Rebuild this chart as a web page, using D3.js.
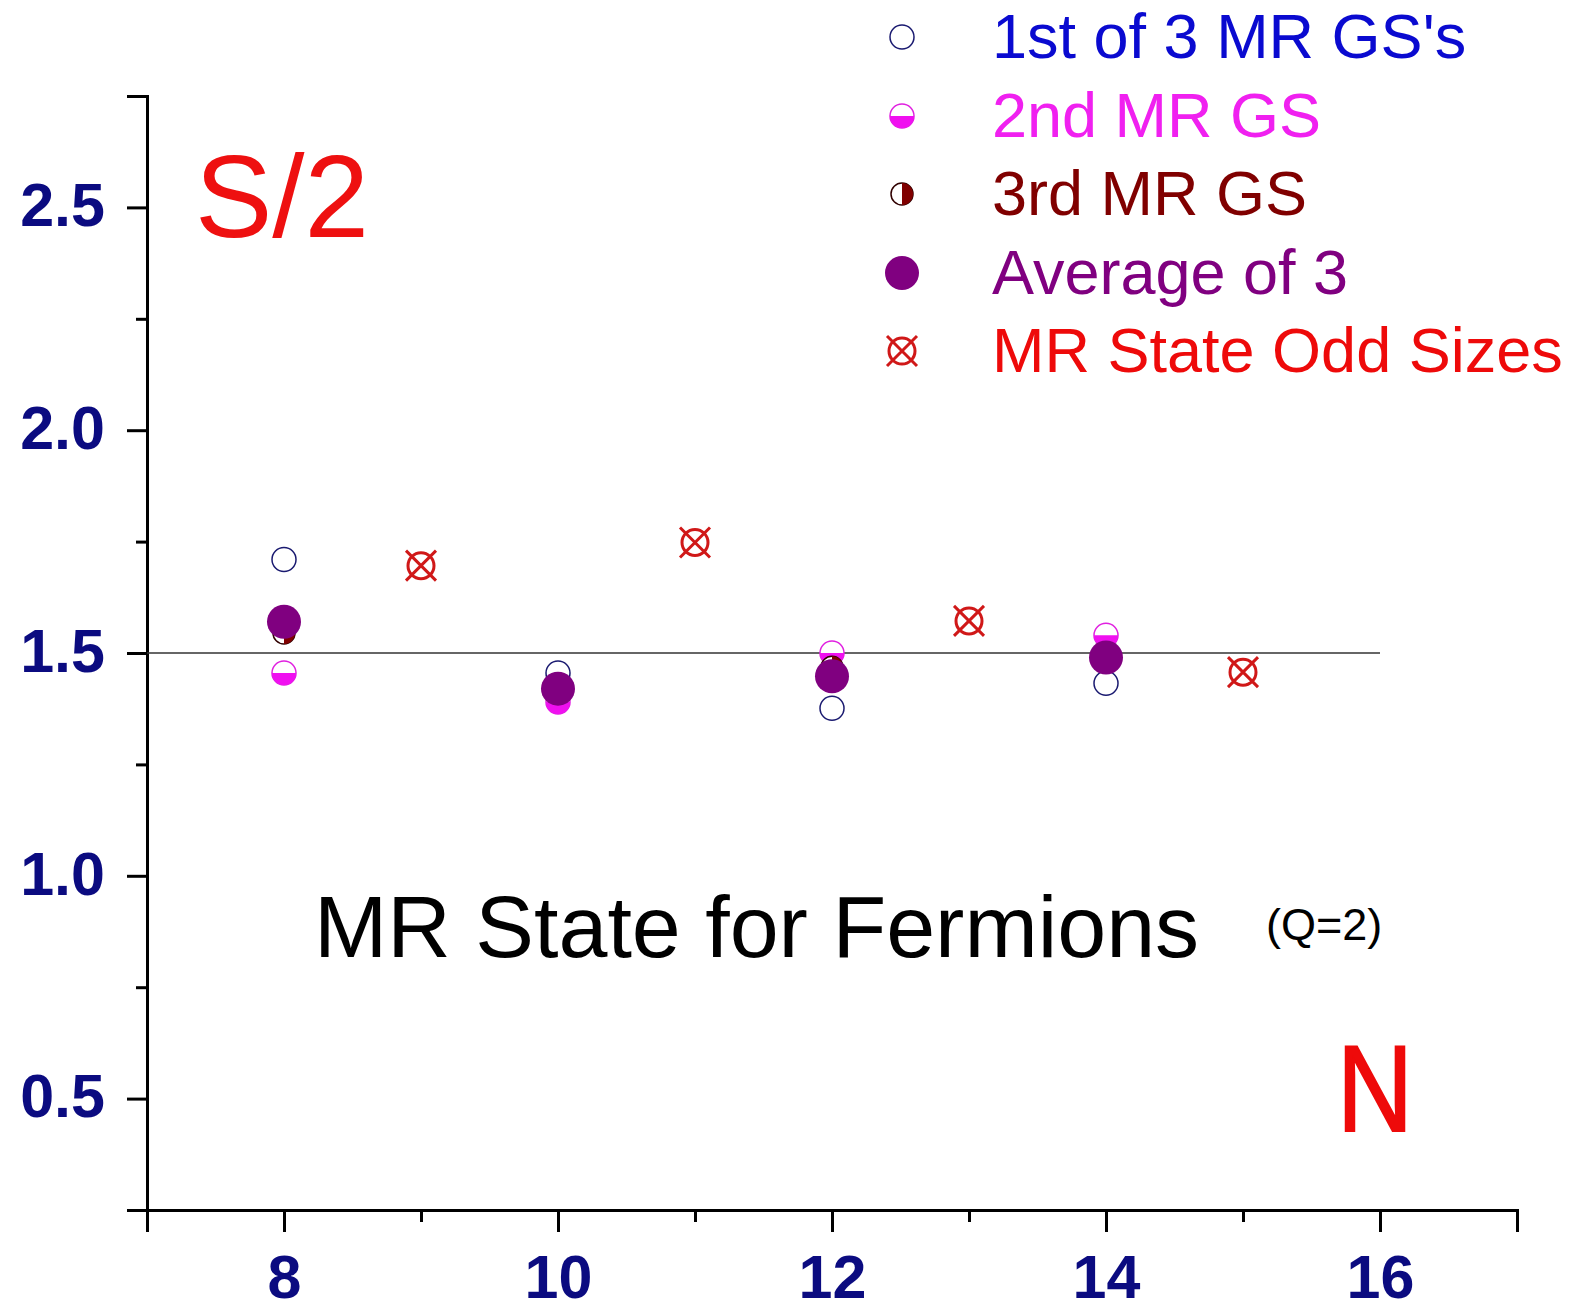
<!DOCTYPE html>
<html lang="en">
<head>
    <meta charset="UTF-8">
    <title>MR State for Fermions</title>
    <script src="https://d3js.org/d3.v7.min.js"></script>
    <style>
        body { margin: 0; background: #fff; }
        text { font-family: 'Liberation Sans', Arial, sans-serif; }
    </style>
</head>
<body>
<script>
    const width  = 1579;
    const height = 1304;

    // data
    const evenN    = [8, 10, 12, 14];
    const firstGS  = [1.71, 1.455, 1.376, 1.432];
    const secondGS = [1.455, 1.39, 1.50, 1.54];
    const thirdGS  = [1.545, 1.415, 1.468, 1.498];
    const average  = [1.57, 1.42, 1.448, 1.49];
    const oddN     = [9, 11, 13, 15];
    const oddSizes = [1.696, 1.748, 1.572, 1.457];
    const reference = 1.5;

    const xMajor = [8, 10, 12, 14, 16];
    const xMinor = [7, 9, 11, 13, 15, 17];
    const yMajor = [0.5, 1.0, 1.5, 2.0, 2.5];
    const yMinor = [0.25, 0.75, 1.25, 1.75, 2.25, 2.75];

    const legendLabels = ["1st of 3 MR GS's", "2nd MR GS", "3rd MR GS", "Average of 3", "MR State Odd Sizes"];
    const legendColors = ["#0a0ad0", "#f020f0", "#800000", "#800080", "#ee0a0a"];

    const plotLeft = 147, plotRight = 1517, plotTop = 96, plotBottom = 1210;

    const x = d3.scaleLinear().domain([7, 17]).range([plotLeft, plotRight]);
    const y = d3.scaleLinear().domain([0.25, 2.75]).range([plotBottom, plotTop]);

    const svg = d3.select("body").append("svg").attr("width", width).attr("height", height);

    // axes
    const yAxis = svg.append("g").attr("transform", "translate(" + plotLeft + ",0)")
            .call(d3.axisLeft(y).tickValues(yMajor).tickSize(20).tickPadding(22).tickFormat(d3.format(".1f")));
    const yAxisMinor = svg.append("g").attr("transform", "translate(" + plotLeft + ",0)")
            .call(d3.axisLeft(y).tickValues(yMinor).tickSize(11).tickFormat(""));
    const xAxis = svg.append("g").attr("transform", "translate(0," + plotBottom + ")")
            .call(d3.axisBottom(x).tickValues(xMajor).tickSize(22).tickPadding(23).tickFormat(d3.format("d")));
    const xAxisMinor = svg.append("g").attr("transform", "translate(0," + plotBottom + ")")
            .call(d3.axisBottom(x).tickValues(xMinor).tickSize(12).tickFormat(""));

    [yAxis, yAxisMinor, xAxis, xAxisMinor].forEach(g => {
        g.select(".domain").attr("stroke", "#000").attr("stroke-width", 3);
        g.selectAll(".tick line").attr("stroke", "#000").attr("stroke-width", 3);
        g.selectAll("text")
            .attr("font-family", "'Liberation Sans', Arial, sans-serif")
            .attr("font-size", 61).attr("font-weight", "bold").attr("fill", "#0b0b80");
    });
    yAxisMinor.select(".domain").remove();
    xAxisMinor.select(".domain").remove();
    yAxis.selectAll("text").attr("dy", "0.30em");
    xAxis.selectAll("text").attr("dy", "0.70em");

    // reference line at 1.5
    svg.append("line")
            .attr("x1", x(7)).attr("x2", x(16))
            .attr("y1", y(reference)).attr("y2", y(reference))
            .attr("stroke", "#333").attr("stroke-width", 1.5);

    // marker drawers
    const halfArc = (r, a0) => d3.arc().innerRadius(0).outerRadius(r).startAngle(a0).endAngle(a0 + Math.PI)();

    function openCircle(g) {
        g.append("circle").attr("r", 12).attr("fill", "#fff").attr("stroke", "#1a1a70").attr("stroke-width", 1.5);
    }
    function halfBottom(g) {
        g.append("circle").attr("r", 12).attr("fill", "#fff").attr("stroke", "#e020e0").attr("stroke-width", 1.5);
        g.append("path").attr("d", halfArc(12, Math.PI / 2)).attr("fill", "#f010f0");
    }
    function halfRight(g) {
        g.append("circle").attr("r", 11).attr("fill", "#fff").attr("stroke", "#300000").attr("stroke-width", 1.5);
        g.append("path").attr("d", halfArc(11, 0)).attr("fill", "#800000");
    }
    function filled(g) {
        g.append("circle").attr("r", 17).attr("fill", "#800080");
    }
    function crossCircle(g) {
        g.append("circle").attr("r", 13).attr("fill", "none").attr("stroke", "#d01818").attr("stroke-width", 3);
        g.append("path").attr("d", "M-15,-15L15,15M-15,15L15,-15").attr("stroke", "#d01818").attr("stroke-width", 3);
    }

    function plotSeries(xs, ys, drawer) {
        svg.append("g").selectAll("g")
            .data(xs.map((d, i) => [d, ys[i]]))
            .enter().append("g")
            .attr("transform", d => "translate(" + [x(d[0]), y(d[1])] + ")")
            .each(function () { drawer(d3.select(this)); });
    }

    plotSeries(evenN, firstGS, openCircle);
    plotSeries(evenN, secondGS, halfBottom);
    plotSeries(evenN, thirdGS, halfRight);
    plotSeries(evenN, average, filled);
    plotSeries(oddN, oddSizes, crossCircle);

    // legend
    const drawers = [openCircle, halfBottom, halfRight, filled, crossCircle];
    const legendY = [37, 116, 194, 273, 351];
    legendLabels.forEach((label, i) => {
        const g = svg.append("g").attr("transform", "translate(902," + legendY[i] + ")");
        drawers[i](g);
        svg.append("text")
            .attr("x", 992).attr("y", legendY[i] + 21)
            .attr("font-size", 63).attr("fill", legendColors[i])
            .text(label);
    });

    // annotations
    svg.append("text").attr("x", 195).attr("y", 237)
            .attr("font-size", 116).attr("fill", "#ee1010").text("S/2");
    svg.append("text").attr("x", 1337).attr("y", 1131)
            .attr("font-size", 122).attr("fill", "#ee0a0a").attr("textLength", 76)
            .attr("lengthAdjust", "spacingAndGlyphs").attr("stroke", "#ee0a0a").attr("stroke-width", 2).text("N");
    svg.append("text").attr("x", 314).attr("y", 957)
            .attr("font-size", 88).attr("fill", "#000").text("MR State for Fermions");
    svg.append("text").attr("x", 1266).attr("y", 940)
            .attr("font-size", 45).attr("fill", "#000").text("(Q=2)");
</script>
</body>
</html>
